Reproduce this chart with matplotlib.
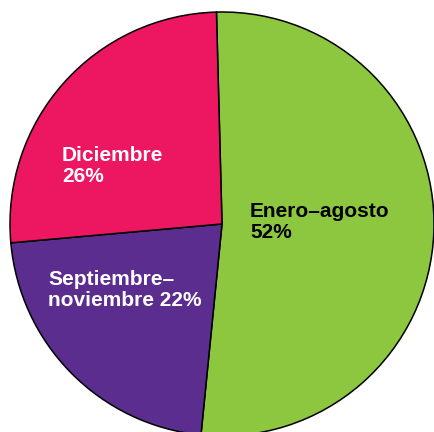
import matplotlib.pyplot as plt

labels = ['Enero\u2013agosto\n52%', 'Septiembre\u2013\nnoviembre 22%', 'Diciembre\n26%']
shares = [52, 22, 26]
colors = ['#8DC63F', '#5B2D8E', '#ED1660']
text_colors = ['black', 'white', 'white']
# label anchors (top-left) in pixels of the original picture
label_px = [(250, 202), (48, 270), (62, 146)]

plt.rcParams['font.family'] = ['Liberation Sans', 'DejaVu Sans']

W, H = 434, 432
cx, cy, r = 222, 224, 212
fig = plt.figure(figsize=(W / 100, H / 100), dpi=100)
ax = fig.add_axes([(cx - r) / W, (H - cy - r) / H, 2 * r / W, 2 * r / H])

ax.pie(shares, colors=colors, startangle=91.5, counterclock=False,
       wedgeprops=dict(edgecolor='black', linewidth=1.1))
ax.set_xlim(-1, 1)
ax.set_ylim(-1, 1)
ax.set_aspect('auto')
ax.axis('off')

for lab, tc, (px, py) in zip(labels, text_colors, label_px):
    ax.text((px - cx) / r, (cy - py) / r, lab, color=tc, fontsize=15,
            fontweight='bold', ha='left', va='top', linespacing=1.1)

fig.savefig('out.png', dpi=100)
